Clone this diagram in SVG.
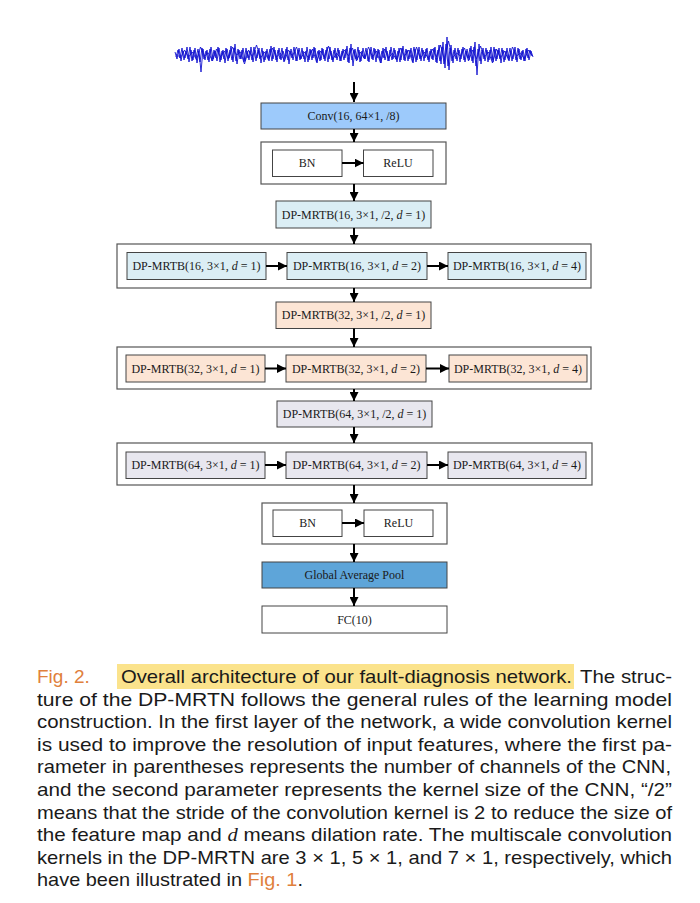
<svg xmlns="http://www.w3.org/2000/svg" width="700" height="903" viewBox="0 0 700 903">
<style>
.lbl{font-family:"Liberation Serif","Times New Roman",serif;font-size:12px;fill:#1a1a1a;text-anchor:middle}
.it{font-style:italic}
.box{stroke:#444;stroke-width:1}
.outer{fill:#fff;stroke:#555;stroke-width:1.2}
.c1{fill:#dbeef5}
.c2{fill:#fce5d5}
.c3{fill:#e8e7ef}
.cap{font-family:"Liberation Sans",Arial,sans-serif;font-size:19px;fill:#1a1a1a}
.or{fill:#e0803c}
.m{font-family:"Liberation Serif","Times New Roman",serif;font-style:italic}
.wave{fill:none;stroke:#1212cf;stroke-width:0.9}
.conn line{stroke:#000;stroke-width:2;marker-end:url(#ah)}
</style>
<defs>
<marker id="ah" viewBox="0 0 10 10" refX="10" refY="5" markerWidth="9" markerHeight="9" markerUnits="userSpaceOnUse" orient="auto">
<path d="M0,0 L10,5 L0,10 z" fill="#000"/>
</marker>
</defs>
<rect width="700" height="903" fill="#fff"/>
<g id="signal">
<polyline class="wave" points="175,52 177,59 179,49 181,61 183,51 185,58 187,47 189,62 191,50 193,60 195,48 197,63 199,51 201,72 203,49 205,60 207,50 209,62 211,47 213,59 215,51 217,61 219,48 221,60 223,50 225,63 227,49 229,58 231,46 233,62 235,44 237,64 239,50 241,59 243,48 245,61 247,51 249,60 251,47 253,62 255,50 257,58 259,48 261,63 263,51 265,60 267,49 269,61 271,46 273,59 275,50 277,62 279,48 281,60 283,51 285,58 287,47 289,64 291,49 293,60 295,50 297,61 299,48 301,59 303,51 305,62 307,47 309,60 311,50 313,58 315,48 317,63 319,50 321,60 323,49 325,61 327,47 329,59 331,51 333,62 335,48 337,60 339,50 341,61 343,49 345,58 347,46 349,63 351,44 353,66 355,49 357,60 359,50 361,61 363,48 365,59 367,51 369,62 371,47 373,60 375,49 377,58 379,50 381,63 383,48 385,60 387,51 389,61 391,47 393,59 395,50 397,62 399,48 401,60 403,46 405,61 407,50 409,59 411,48 413,63 415,49 417,60 419,47 421,61 423,50 425,58 427,48 429,62 431,49 433,60 435,47 437,63 439,45 441,64 443,42 445,68 447,37 449,70 451,45 453,63 455,48 457,61 459,50 461,59 463,47 465,62 467,49 469,60 471,46 473,63 475,42 477,75 479,44 481,64 483,48 485,61 487,50 489,60 491,47 493,62 495,49 497,59 499,48 501,63 503,50 505,60 507,48 509,61 511,51 513,59 515,47 517,62 519,49 521,60 523,50 525,61 527,48 529,60 531,51 533,57"/>
<polyline class="wave" points="176,57 178,50 180,58 182,48 184,60 186,51 188,59 190,47 192,61 194,50 196,58 198,49 200,62 202,48 204,59 206,51 208,60 210,49 212,61 214,50 216,58 218,47 220,62 222,51 224,59 226,48 228,61 230,50 232,60 234,48 236,61 238,49 240,59 242,50 244,62 246,48 248,58 250,51 252,60 254,47 256,61 258,50 260,59 262,48 264,62 266,51 268,58 270,49 272,61 274,47 276,60 278,50 280,59 282,48 284,62 286,49 288,60 290,51 292,58 294,47 296,61 298,50 300,60 302,48 304,59 306,51 308,62 310,49 312,60 314,47 316,58 318,51 320,61 322,48 324,59 326,50 328,62 330,47 332,60 334,50 336,58 338,48 340,61 342,51 344,60 346,49 348,62 350,48 352,60 354,50 356,59 358,47 360,62 362,51 364,58 366,48 368,61 370,50 372,59 374,48 376,62 378,49 380,60 382,51 384,58 386,47 388,61 390,50 392,60 394,48 396,59 398,51 400,62 402,48 404,60 406,49 408,61 410,50 412,58 414,47 416,62 418,50 420,59 422,48 424,61 426,49 428,60 430,51 432,59 434,48 436,62 438,50 440,61 442,47 444,64 446,44 448,66 450,48 452,61 454,50 456,59 458,48 460,62 462,49 464,60 466,51 468,58 470,48 472,61 474,47 476,66 478,49 480,61 482,50 484,59 486,48 488,62 490,50 492,60 494,47 496,61 498,50 500,59 502,48 504,62 506,51 508,58 510,48 512,61 514,50 516,60 518,48 520,59 522,51 524,61 526,49 528,58 530,50 532,56"/>
<polyline class="wave" points="176.5,54 180.5,58 184.5,50 188.5,57 192.5,52 196.5,60 200.5,47 204.5,56 208.5,53 212.5,61 216.5,49 220.5,57 224.5,51 228.5,59 232.5,47 236.5,55 240.5,52 244.5,64 248.5,50 252.5,57 256.5,45 260.5,58 264.5,52 268.5,60 272.5,48 276.5,57 280.5,53 284.5,61 288.5,50 292.5,56 296.5,47 300.5,59 304.5,52 308.5,58 312.5,49 316.5,62 320.5,51 324.5,57 328.5,46 332.5,60 336.5,53 340.5,58 344.5,50 348.5,56 352.5,48 356.5,61 360.5,52 364.5,59 368.5,47 372.5,57 376.5,51 380.5,63 384.5,49 388.5,58 392.5,53 396.5,60 400.5,48 404.5,56 408.5,50 412.5,62 416.5,47 420.5,58 424.5,52 428.5,59 432.5,49 436.5,57 440.5,45 444.5,60 448.5,41 452.5,58 456.5,53 460.5,56 464.5,48 468.5,61 472.5,50 476.5,59 480.5,46 484.5,57 488.5,52 492.5,63 496.5,49 500.5,58 504.5,51 508.5,60 512.5,47 516.5,56 520.5,53 524.5,59 528.5,50 532.5,56"/>
</g>
<g id="conv"><rect x="261" y="103" width="185" height="26" fill="#9dcafb" class="box"/><text class="lbl" x="353.5" y="120">Conv(16, 64×1, /8)</text></g>
<g id="bnrelu1">
<rect x="261" y="142" width="185" height="42" class="outer"/>
<g id="bn1"><rect x="272.5" y="150" width="69.5" height="26.5" fill="#fff" class="box"/><text class="lbl" x="307" y="167">BN</text></g>
<g id="relu1"><rect x="363.5" y="150" width="69.5" height="26.5" fill="#fff" class="box"/><text class="lbl" x="398" y="167">ReLU</text></g>
</g>
<g id="dp16s"><rect x="276" y="201" width="155" height="27" class="box c1"/><text class="lbl" x="353.5" y="218.5">DP-MRTB(16, 3×1, /2, <tspan class="it">d</tspan> = 1)</text></g>
<g id="row1">
<rect x="117" y="244" width="474" height="44" class="outer"/>
<g id="dp16a"><rect x="127" y="252.5" width="139" height="27" class="box c1"/><text class="lbl" x="196.5" y="270">DP-MRTB(16, 3×1, <tspan class="it">d</tspan> = 1)</text></g>
<g id="dp16b"><rect x="287" y="252.5" width="140" height="27" class="box c1"/><text class="lbl" x="357" y="270">DP-MRTB(16, 3×1, <tspan class="it">d</tspan> = 2)</text></g>
<g id="dp16c"><rect x="448" y="252.5" width="138" height="27" class="box c1"/><text class="lbl" x="517" y="270">DP-MRTB(16, 3×1, <tspan class="it">d</tspan> = 4)</text></g>
</g>
<g id="dp32s"><rect x="276" y="302" width="155" height="26.5" class="box c2"/><text class="lbl" x="353.5" y="319">DP-MRTB(32, 3×1, /2, <tspan class="it">d</tspan> = 1)</text></g>
<g id="row2">
<rect x="117" y="347" width="474" height="42" class="outer"/>
<g id="dp32a"><rect x="126" y="355" width="139" height="27" class="box c2"/><text class="lbl" x="195.5" y="372.5">DP-MRTB(32, 3×1, <tspan class="it">d</tspan> = 1)</text></g>
<g id="dp32b"><rect x="286" y="355" width="140" height="27" class="box c2"/><text class="lbl" x="356" y="372.5">DP-MRTB(32, 3×1, <tspan class="it">d</tspan> = 2)</text></g>
<g id="dp32c"><rect x="449" y="355" width="138" height="27" class="box c2"/><text class="lbl" x="518" y="372.5">DP-MRTB(32, 3×1, <tspan class="it">d</tspan> = 4)</text></g>
</g>
<g id="dp64s"><rect x="277" y="401" width="155" height="26" class="box c3"/><text class="lbl" x="354.5" y="418">DP-MRTB(64, 3×1, /2, <tspan class="it">d</tspan> = 1)</text></g>
<g id="row3">
<rect x="117" y="443" width="475" height="42" class="outer"/>
<g id="dp64a"><rect x="126" y="452" width="139" height="26.5" class="box c3"/><text class="lbl" x="195.5" y="469">DP-MRTB(64, 3×1, <tspan class="it">d</tspan> = 1)</text></g>
<g id="dp64b"><rect x="286" y="452" width="141" height="26.5" class="box c3"/><text class="lbl" x="356.5" y="469">DP-MRTB(64, 3×1, <tspan class="it">d</tspan> = 2)</text></g>
<g id="dp64c"><rect x="448" y="452" width="138" height="26.5" class="box c3"/><text class="lbl" x="517" y="469">DP-MRTB(64, 3×1, <tspan class="it">d</tspan> = 4)</text></g>
</g>
<g id="bnrelu2">
<rect x="262" y="503" width="185" height="41" class="outer"/>
<g id="bn2"><rect x="273" y="510" width="69" height="26.5" fill="#fff" class="box"/><text class="lbl" x="307.5" y="527">BN</text></g>
<g id="relu2"><rect x="364" y="510" width="69" height="26.5" fill="#fff" class="box"/><text class="lbl" x="398.5" y="527">ReLU</text></g>
</g>
<g id="gap"><rect x="262" y="562" width="185" height="26" fill="#5ea5d9" class="box"/><text class="lbl" x="354.5" y="579">Global Average Pool</text></g>
<g id="fc"><rect x="262" y="606" width="185" height="27" fill="#fff" class="box"/><text class="lbl" x="354.5" y="623.5">FC(10)</text></g>
<g id="connectors" class="conn">
<line x1="354" y1="82" x2="354" y2="102"/>
<line x1="354" y1="129" x2="354" y2="142"/>
<line x1="354" y1="184" x2="354" y2="201"/>
<line x1="354" y1="228" x2="354" y2="244"/>
<line x1="354" y1="288" x2="354" y2="302"/>
<line x1="354" y1="328.5" x2="354" y2="347"/>
<line x1="354" y1="389" x2="354" y2="401"/>
<line x1="354" y1="427" x2="354" y2="443"/>
<line x1="354" y1="485" x2="354" y2="503"/>
<line x1="354" y1="544" x2="354" y2="562"/>
<line x1="354" y1="588" x2="354" y2="606"/>
<line x1="342" y1="163" x2="363.5" y2="163"/>
<line x1="266" y1="266" x2="287" y2="266"/>
<line x1="427" y1="266" x2="448" y2="266"/>
<line x1="265" y1="368.5" x2="286" y2="368.5"/>
<line x1="426" y1="368.5" x2="449" y2="368.5"/>
<line x1="265" y1="465" x2="286" y2="465"/>
<line x1="427" y1="465" x2="448" y2="465"/>
<line x1="342" y1="523" x2="364" y2="523"/>
</g>
<g id="caption">
<rect x="117" y="664" width="457" height="25" fill="#fbe38c"/>
<text class="cap or" x="37" y="683">Fig. 2.</text>
<text class="cap" x="121" y="683" textLength="451" lengthAdjust="spacingAndGlyphs">Overall architecture of our fault-diagnosis network.</text>
<text class="cap" x="580" y="683" textLength="92" lengthAdjust="spacingAndGlyphs">The struc-</text>
<text class="cap" x="37" y="705.6" textLength="635" lengthAdjust="spacingAndGlyphs">ture of the DP-MRTN follows the general rules of the learning model</text>
<text class="cap" x="37" y="728.2" textLength="635" lengthAdjust="spacingAndGlyphs">construction. In the first layer of the network, a wide convolution kernel</text>
<text class="cap" x="37" y="750.8" textLength="635" lengthAdjust="spacingAndGlyphs">is used to improve the resolution of input features, where the first pa-</text>
<text class="cap" x="37" y="773.4" textLength="634" lengthAdjust="spacingAndGlyphs">rameter in parentheses represents the number of channels of the CNN,</text>
<text class="cap" x="37" y="796" textLength="635" lengthAdjust="spacingAndGlyphs">and the second parameter represents the kernel size of the CNN, “/2”</text>
<text class="cap" x="37" y="818.6" textLength="635" lengthAdjust="spacingAndGlyphs">means that the stride of the convolution kernel is 2 to reduce the size of</text>
<text class="cap" x="37" y="841.2" textLength="635" lengthAdjust="spacingAndGlyphs">the feature map and <tspan class="m">d</tspan> means dilation rate. The multiscale convolution</text>
<text class="cap" x="37" y="863.8" textLength="635" lengthAdjust="spacingAndGlyphs">kernels in the DP-MRTN are 3 × 1, 5 × 1, and 7 × 1, respectively, which</text>
<text class="cap" x="37" y="886.4" textLength="266" lengthAdjust="spacingAndGlyphs">have been illustrated in <tspan class="or">Fig. 1</tspan>.</text>
</g>
</svg>
